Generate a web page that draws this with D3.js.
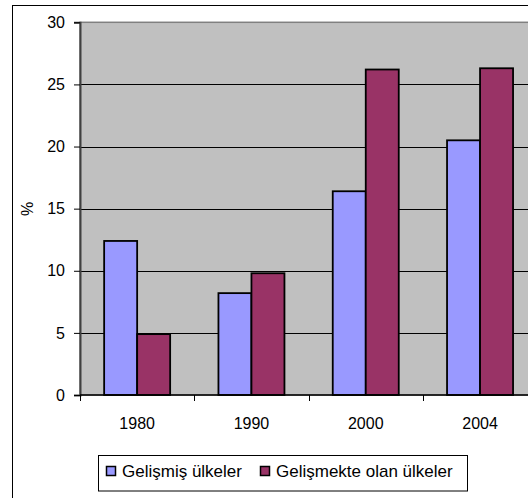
<!DOCTYPE html>
<html>
<head>
<meta charset="utf-8">
<script src="https://cdn.jsdelivr.net/npm/d3@7/dist/d3.min.js"></script>
<style>
  html, body { margin: 0; padding: 0; background: #fff; }
  svg { display: block; font-family: "Liberation Sans", Arial, sans-serif; }
</style>
</head>
<body>
<svg id="chart" width="528" height="498"></svg>
<script>
// Share (%) by year for developed and developing countries
const categories = ["1980", "1990", "2000", "2004"];
const seriesNames = ["Gelişmiş ülkeler", "Gelişmekte olan ülkeler"];
const developed = [12.4, 8.2, 16.4, 20.5];
const developing = [4.9, 9.8, 26.2, 26.3];
const yTicks = [0, 5, 10, 15, 20, 25, 30];
const colors = ["#9999FF", "#993366"];

const svg = d3.select("#chart");
const plot = { left: 80, top: 22.3, bottom: 395, right: 537.2 };

const x0 = d3.scaleBand().domain(categories).range([plot.left, plot.right]).padding(0);
const bw = x0.bandwidth();
const gap = bw * 0.4225;
const x1 = d3.scaleBand().domain(seriesNames).range([gap / 2, bw - gap / 2]).padding(0);
const y = d3.scaleLinear().domain([0, 30]).range([plot.bottom, plot.top]);

// outer chart frame
svg.append("rect")
  .attr("x", 12.5).attr("y", 5.5)
  .attr("width", 600).attr("height", 600)
  .attr("fill", "#fff").attr("stroke", "#000").attr("stroke-width", 1);

// plot area
svg.append("rect")
  .attr("x", plot.left).attr("y", plot.top)
  .attr("width", plot.right - plot.left).attr("height", plot.bottom - plot.top)
  .attr("fill", "#C0C0C0").attr("stroke", "#808080").attr("stroke-width", 1.5);

// horizontal gridlines
svg.append("g").selectAll("line")
  .data(yTicks.filter(t => t > 0 && t < 30))
  .join("line")
  .attr("x1", plot.left).attr("x2", plot.right)
  .attr("y1", d => Math.round(y(d)) + 0.5).attr("y2", d => Math.round(y(d)) + 0.5)
  .attr("stroke", "#000").attr("stroke-width", 1);

// bars
const rows = categories.map((c, i) => ({ cat: c, values: [developed[i], developing[i]] }));
svg.append("g").selectAll("g")
  .data(rows)
  .join("g")
  .attr("transform", d => `translate(${x0(d.cat)},0)`)
  .selectAll("rect")
  .data(d => d.values.map((v, j) => ({ name: seriesNames[j], v, j })))
  .join("rect")
  .attr("x", d => x1(d.name))
  .attr("y", d => y(d.v))
  .attr("width", x1.bandwidth())
  .attr("height", d => y(0) - y(d.v))
  .attr("fill", d => colors[d.j])
  .attr("stroke", "#000")
  .attr("stroke-width", 1.8);

// y axis
const yAxis = d3.axisLeft(y).tickValues(yTicks).tickSize(6).tickPadding(9).tickFormat(d3.format("d"));
const gy = svg.append("g").attr("transform", `translate(${plot.left},0)`).call(yAxis);
gy.select(".domain").attr("stroke", "#404040").attr("stroke-width", 2);
gy.selectAll(".tick line").attr("stroke", "#000");
gy.selectAll(".tick text").attr("font-size", 16).attr("fill", "#000")
  .attr("font-family", "Liberation Sans, Arial, sans-serif");

// x axis (ticks at category boundaries)
const gx = svg.append("g").attr("transform", `translate(0,${plot.bottom})`);
gx.append("line").attr("x1", plot.left).attr("x2", plot.right)
  .attr("y1", 0).attr("y2", 0).attr("stroke", "#000").attr("stroke-width", 1.5);
gx.selectAll("line.tk")
  .data(categories)
  .join("line").attr("class", "tk")
  .attr("x1", d => Math.round(x0(d)) + 0.5).attr("x2", d => Math.round(x0(d)) + 0.5)
  .attr("y1", 0).attr("y2", 6).attr("stroke", "#000");
gx.selectAll("text")
  .data(categories)
  .join("text")
  .attr("x", d => x0(d) + bw / 2)
  .attr("y", 33.5)
  .attr("text-anchor", "middle")
  .attr("font-size", 16)
  .text(d => d);

// y axis title
svg.append("text")
  .attr("transform", "translate(33,209) rotate(-90)")
  .attr("text-anchor", "middle")
  .attr("font-size", 16)
  .text("%");

// legend
const lg = svg.append("g");
lg.append("rect")
  .attr("x", 98.5).attr("y", 455.5).attr("width", 369).attr("height", 35.5)
  .attr("fill", "#fff").attr("stroke", "#000").attr("stroke-width", 1);
const legendX = [106, 260];
seriesNames.forEach((name, i) => {
  lg.append("rect")
    .attr("x", legendX[i] + 0.5).attr("y", 466.5).attr("width", 9).attr("height", 9)
    .attr("fill", colors[i]).attr("stroke", "#000").attr("stroke-width", 1.5);
  lg.append("text")
    .attr("x", legendX[i] + 16).attr("y", 477)
    .attr("font-size", 17)
    .text(name);
});
</script>
</body>
</html>
